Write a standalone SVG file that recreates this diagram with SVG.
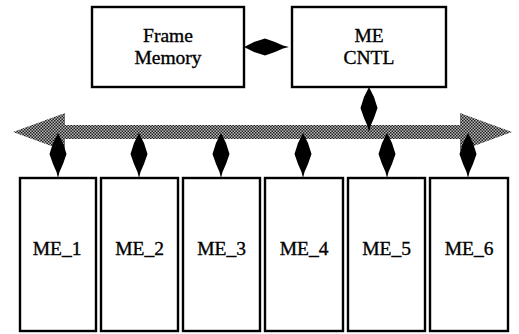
<svg xmlns="http://www.w3.org/2000/svg" width="519" height="334" viewBox="0 0 519 334">
<style>
.box{fill:#fff;stroke:#000;stroke-width:2.4}
.lbl{font-family:"Liberation Serif","Times New Roman",serif;font-size:19.5px;fill:#000;stroke:#000;stroke-width:0.35;text-anchor:middle}
.arr{fill:#000}
</style>
<defs>
<pattern id="dither" width="3" height="3" patternUnits="userSpaceOnUse">
<rect width="3" height="3" fill="#b8b8b8"/>
<rect x="0" y="0" width="1.5" height="1.5" fill="#1e1e1e"/>
<rect x="1.5" y="1.5" width="1.5" height="1.5" fill="#1e1e1e"/>
</pattern>
<path id="dia" d="M0,0 L5,10 L8.5,21 L5,31 L1.5,39 L0,45 L-1.5,39 L-5,31 L-8.5,21 L-5,10 Z"/>
</defs>
<g id="frame_memory">
<rect class="box" x="92" y="7" width="152" height="80"/>
<text class="lbl" x="168" y="42">Frame</text>
<text class="lbl" x="168" y="64">Memory</text>
</g>
<g id="me_cntl">
<rect class="box" x="292" y="7" width="154" height="80"/>
<text class="lbl" x="369" y="42">ME</text>
<text class="lbl" x="369" y="64">CNTL</text>
</g>
<g id="bus">
<polygon fill="url(#dither)" points="13,132 65,113 65,125 460,125 460,113 512,132 460,151 460,139 65,139 65,151"/>
</g>
<g id="me_1"><rect class="box" x="20" y="178" width="76" height="153"/><text class="lbl" x="57" y="255">ME_1</text></g>
<g id="me_2"><rect class="box" x="101" y="178" width="77" height="153"/><text class="lbl" x="139.5" y="255">ME_2</text></g>
<g id="me_3"><rect class="box" x="183" y="178" width="77" height="153"/><text class="lbl" x="221.5" y="255">ME_3</text></g>
<g id="me_4"><rect class="box" x="265" y="178" width="78" height="153"/><text class="lbl" x="304" y="255">ME_4</text></g>
<g id="me_5"><rect class="box" x="348" y="178" width="77" height="153"/><text class="lbl" x="386.5" y="255">ME_5</text></g>
<g id="me_6"><rect class="box" x="430" y="178" width="78" height="153"/><text class="lbl" x="469" y="255">ME_6</text></g>
<g id="connectors" class="arr">
<use href="#dia" transform="translate(244,47) rotate(-90)"/>
<use href="#dia" transform="translate(369,87)"/>
<use href="#dia" transform="translate(58,133)"/>
<use href="#dia" transform="translate(139,133)"/>
<use href="#dia" transform="translate(221,133)"/>
<use href="#dia" transform="translate(303,133)"/>
<use href="#dia" transform="translate(387,133)"/>
<use href="#dia" transform="translate(468,133)"/>
</g>
</svg>
